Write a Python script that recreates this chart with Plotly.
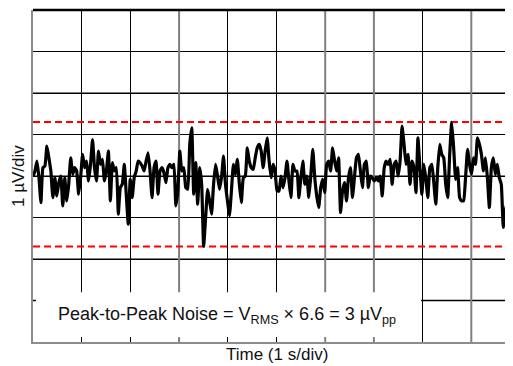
import numpy as np
import plotly.graph_objects as go

# Noise trace (µV), left to right
noise_uv = [
    0, 0.12, 0.36, -0.04, -0.64, 0.20, 0.24, 0.72, 0.44, 0.12, -0.52, -0.04, -0.48, -0.16, 0, -0.72,
    -0.04, -0.60, -0.20, 0.44, 0.04, 0.20, 0.12, -0.44, -0.04, 0.52, 0.20, 0.36, -0.12, 0.28, 0.88,
    0.20, -0.12, 0.60, 0.28, 0.40, -0.12, 0.12, 0.60, -0.60,
    0.32, 0.12, 0.20, -0.92, -0.28, -0.20, 0.28, -0.44, -1.16, -0.08, -0.52, -0.04, 0.12, 0.36, 0.32,
    0.24, 0.12, 0.36, 0.56, 0.12, -0.52, 0.20, 0.36, -0.44, 0.12, 0.20, 0.08, -0.16, 0.20, 0.28, 0.20,
    0.28, -0.72, -0.36, 0.60, 0.12, 0.20, -0.28, -0.32, 0.76, 1.16,
    -0.44, 0.32, -0.68, 0.20, -0.20, -1.69, -1.00, -0.32, -0.60, -0.92, -0.20, 0.28, 0, -0.32, -0.04,
    0.48, -0.20, -0.60, -0.96, -0.36, 0.28, 0.04, 0.40, -0.20, -0.64, -0.04, 0, 0.68, 0.36, 0.20, 0.16,
    0.44, 0.68, 0.76, 0.60, 0.20, 0.60, 0.92, 0.36, -0.04, 0.28,
    0.12, -0.36, -0.36, 0, -0.28, -0.04, 0.36, -0.12, -0.52, 0.28, 0.12, 0.12, -0.52, -0.04, 0.36,
    -0.20, 0, -0.52, 0, 0.64, -0.04, -0.48, -0.76, -0.28, -0.08, -0.40, 0.28, 0.36, 0.12, 0.68, 0.36,
    0.12, 0.44, -0.88, -0.36, -0.16, -0.60, -0.04, 0.20, -0.52,
    -0.04, 0.44, 0.52, 0.12, -0.28, 0.28, 0.36, -0.28, 0, -0.04, -0.12, -0.04, -0.12, 0, -0.48, 0.20,
    0.36, 0.28, 0.40, -0.20, 0.28, 0.36, 0, 0.36, 1.20, 0.76, 0.28, 0.52, -0.20, 0.36, 0.20, -0.40,
    0.92, 0.20, -0.44, 0.28, -0.08, -0.52, 0.20, 0.28, -0.16,
    -0.68, 0.20, 0.76, 0.52, 0.44, -0.20, -0.52, 0.52, 1.29, 0.68, -0.08, 0.20, -0.52, -0.60, -0.60,
    -0.04, 0.64, 0.28, 0.04, 0.44, 0.28, 0.92, 0.76, 0.52, 0.12, 0.44, -0.04, -0.76, 0.20, 0.44, 0.04,
    0.28, -0.04, -0.20, -1.24, -0.84, -0.64, -1.00, -1.00, -0.30,
]
t_start_s, t_end_s = 0.0, 9.86
time_s = np.linspace(t_start_s, t_end_s, len(noise_uv))

pp_upper_uv = 1.3
pp_lower_uv = -1.7

x_title = "Time (1 s/div)"
y_title = "1 µV/div"
note_text = "Peak-to-Peak Noise = V<sub>RMS</sub> × 6.6 = 3 µV<sub>pp</sub>"

gray_x_divs = [3, 6, 7, 9]
gray_y_divs = [2, 0, -2, -3]

FONT = "Arial, 'Liberation Sans', sans-serif"

fig = go.Figure()
for lvl in (pp_upper_uv, pp_lower_uv):
    fig.add_trace(go.Scatter(x=[0, 10], y=[lvl, lvl], mode="lines",
                             line=dict(color="#ff0000", width=2, dash="7px,4px"),
                             hoverinfo="skip", showlegend=False))
fig.add_trace(go.Scatter(x=time_s, y=noise_uv, mode="lines",
                         line=dict(color="black", width=3.2, shape="spline", smoothing=0.4),
                         showlegend=False))

x_max = 480 / 48.7

axis_common = dict(showgrid=True, gridcolor="black", gridwidth=1, showticklabels=False,
                   ticks="", zeroline=False, showline=True, linecolor="#8c8c8c", linewidth=2,
                   tick0=0, dtick=1, fixedrange=True)
fig.update_xaxes(range=[0, x_max], **axis_common)
fig.update_yaxes(range=[-4, 4], **axis_common)

shapes = []
for gx in gray_x_divs:
    shapes.append(dict(type="line", xref="x", yref="y", x0=gx, x1=gx, y0=-4, y1=4,
                       line=dict(color="#808080", width=2), layer="between"))
for gy in gray_y_divs:
    shapes.append(dict(type="line", xref="paper", yref="y", x0=0, x1=1, y0=gy, y1=gy,
                       line=dict(color="#808080", width=2), layer="between"))
# white label box
shapes.append(dict(type="rect", xref="x", yref="y", x0=0.06, x1=7.97, y0=-3.88, y1=-2.80,
                   fillcolor="white", line=dict(width=0), layer="between"))
# top border
shapes.append(dict(type="line", xref="paper", yref="paper", x0=0, x1=1, y0=1, y1=1,
                   line=dict(color="black", width=2.5), layer="above"))

# page body adds an 8px offset; figure sized so the plot lands where the reference has it
fig.update_layout(
    width=505, height=358,
    margin=dict(l=25, r=0, t=2, b=24),
    paper_bgcolor="white", plot_bgcolor="white",
    shapes=shapes,
    font=dict(family=FONT, color="black"),
    annotations=[
        dict(text=note_text, xref="x", yref="y", x=3.99, y=-3.35, showarrow=False,
             xanchor="center", yanchor="middle", font=dict(size=18, family=FONT, color="#111")),
        dict(text=x_title, xref="paper", yref="paper", x=(277 - 33) / 480, y=-0.039,
             showarrow=False, xanchor="center", yanchor="middle",
             font=dict(size=17, family=FONT, color="#111")),
        dict(text=y_title, xref="paper", yref="paper", x=(18 - 33) / 480, y=0.5, textangle=-90,
             showarrow=False, xanchor="center", yanchor="middle",
             font=dict(size=17, family=FONT, color="#111")),
    ],
)

fig.write_html("out.html")
